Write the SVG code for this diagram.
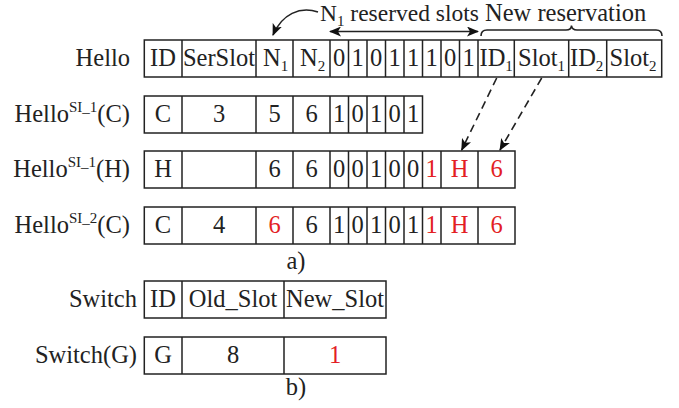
<svg xmlns="http://www.w3.org/2000/svg" width="679" height="408" viewBox="0 0 679 408">
<defs>
<style>
text{font-family:"Liberation Serif","Times New Roman",serif;font-size:24.5px;fill:#222}
.c{text-anchor:middle}
.e{text-anchor:end}
.r{fill:#e31e24}
.sub{font-size:15px}
rect,.ln{fill:none;stroke:#222;stroke-width:1.5}
.cn{fill:none;stroke:#222;stroke-width:1.6}
.dash{stroke-dasharray:8,5}
</style>
<marker id="ah" viewBox="0 0 12 10" refX="11" refY="5" markerWidth="12" markerHeight="10" markerUnits="userSpaceOnUse" orient="auto-start-reverse">
<path d="M0,0 L12,5 L0,10 L3,5 Z" fill="#111"/>
</marker>
</defs>

<g id="header">
<text x="320" y="21" style="font-size:23.5px">N<tspan class="sub" dy="5">1</tspan><tspan dy="-5"> reserved slots</tspan></text>
<text x="485" y="21">New reservation</text>
<path class="cn" d="M481,36 Q481,30 487,30 L566,30 Q571.5,30 571.5,25.5 Q572,30 577,30 L656,30 Q662,30 662,36"/>
</g>

<g id="hello">
<text class="e" x="130" y="66">Hello</text>
<rect x="144.3" y="40" width="517.4" height="37"/>
<path class="ln" d="M182,40V77M256,40V77M293,40V77M330,40V77M348.5,40V77M367,40V77M385.5,40V77M404,40V77M422.5,40V77M441,40V77M459.5,40V77M478,40V77M514.3,40V77M568.7,40V77M606.7,40V77"/>
<text class="c" x="163" y="66">ID</text>
<text class="c" x="219" y="66">SerSlot</text>
<text x="263" y="66">N<tspan class="sub" dy="5">1</tspan></text>
<text x="300" y="66">N<tspan class="sub" dy="5">2</tspan></text>
<text class="c" x="339.2" y="66">0</text>
<text class="c" x="357.7" y="66">1</text>
<text class="c" x="376.2" y="66">0</text>
<text class="c" x="394.7" y="66">1</text>
<text class="c" x="413.2" y="66">1</text>
<text class="c" x="431.7" y="66">1</text>
<text class="c" x="450.2" y="66">0</text>
<text class="c" x="468.7" y="66">1</text>
<text x="479.5" y="66">ID<tspan class="sub" dy="5">1</tspan></text>
<text x="518" y="66">Slot<tspan class="sub" dy="5">1</tspan></text>
<text x="570" y="66">ID<tspan class="sub" dy="5">2</tspan></text>
<text x="609.5" y="66">Slot<tspan class="sub" dy="5">2</tspan></text>
</g>

<g id="hello-si1-c">
<text class="e" x="130" y="122">Hello<tspan class="sub" dy="-10">SI_1</tspan><tspan dy="10">(C)</tspan></text>
<rect x="144.3" y="96" width="278.2" height="37"/>
<path class="ln" d="M182,96V133M256,96V133M293,96V133M330,96V133M348.5,96V133M367,96V133M385.5,96V133M404,96V133"/>
<text class="c" x="163" y="122">C</text>
<text class="c" x="219" y="122">3</text>
<text class="c" x="274.5" y="122">5</text>
<text class="c" x="311.5" y="122">6</text>
<text class="c" x="339.2" y="122">1</text>
<text class="c" x="357.7" y="122">0</text>
<text class="c" x="376.2" y="122">1</text>
<text class="c" x="394.7" y="122">0</text>
<text class="c" x="413.2" y="122">1</text>
</g>

<g id="hello-si1-h">
<text class="e" x="130" y="177">Hello<tspan class="sub" dy="-10">SI_1</tspan><tspan dy="10">(H)</tspan></text>
<rect x="144.3" y="151" width="370.7" height="37"/>
<path class="ln" d="M182,151V188M256,151V188M293,151V188M330,151V188M348.5,151V188M367,151V188M385.5,151V188M404,151V188M422.5,151V188M441,151V188M478,151V188"/>
<text class="c" x="163" y="177">H</text>
<text class="c" x="274.5" y="177">6</text>
<text class="c" x="311.5" y="177">6</text>
<text class="c" x="339.2" y="177">0</text>
<text class="c" x="357.7" y="177">0</text>
<text class="c" x="376.2" y="177">1</text>
<text class="c" x="394.7" y="177">0</text>
<text class="c" x="413.2" y="177">0</text>
<text class="c r" x="431.7" y="177">1</text>
<text class="c r" x="459.5" y="177">H</text>
<text class="c r" x="496.5" y="177">6</text>
</g>

<g id="hello-si2-c">
<text class="e" x="130" y="233">Hello<tspan class="sub" dy="-10">SI_2</tspan><tspan dy="10">(C)</tspan></text>
<rect x="144.3" y="207" width="370.7" height="37"/>
<path class="ln" d="M182,207V244M256,207V244M293,207V244M330,207V244M348.5,207V244M367,207V244M385.5,207V244M404,207V244M422.5,207V244M441,207V244M478,207V244"/>
<text class="c" x="163" y="233">C</text>
<text class="c" x="219" y="233">4</text>
<text class="c r" x="274.5" y="233">6</text>
<text class="c" x="311.5" y="233">6</text>
<text class="c" x="339.2" y="233">1</text>
<text class="c" x="357.7" y="233">0</text>
<text class="c" x="376.2" y="233">1</text>
<text class="c" x="394.7" y="233">0</text>
<text class="c" x="413.2" y="233">1</text>
<text class="c r" x="431.7" y="233">1</text>
<text class="c r" x="459.5" y="233">H</text>
<text class="c r" x="496.5" y="233">6</text>
</g>

<g id="label-a">
<text class="c" x="296" y="269">a)</text>
</g>

<g id="switch">
<text class="e" x="137" y="307">Switch</text>
<rect x="144.3" y="281" width="241.7" height="37"/>
<path class="ln" d="M182,281V318M284,281V318"/>
<text class="c" x="163" y="307">ID</text>
<text class="c" x="233" y="307">Old_Slot</text>
<text class="c" x="335" y="307">New_Slot</text>
</g>

<g id="switch-g">
<text class="e" x="137" y="363">Switch(G)</text>
<rect x="144.3" y="337" width="241.7" height="37"/>
<path class="ln" d="M182,337V374M284,337V374"/>
<text class="c" x="163" y="363">G</text>
<text class="c" x="233" y="363">8</text>
<text class="c r" x="335" y="363">1</text>
</g>

<g id="label-b">
<text class="c" x="296" y="395">b)</text>
</g>

<g id="connectors">
<path class="cn" d="M318,12 C300,6 282,14 273,35" marker-end="url(#ah)"/>
<path class="cn" d="M330,31.5 L478,31.5" marker-start="url(#ah)" marker-end="url(#ah)"/>
<path class="cn dash" d="M496.7,78 L461.7,150" marker-end="url(#ah)"/>
<path class="cn dash" d="M541.7,78 L500,150" marker-end="url(#ah)"/>
</g>
</svg>
